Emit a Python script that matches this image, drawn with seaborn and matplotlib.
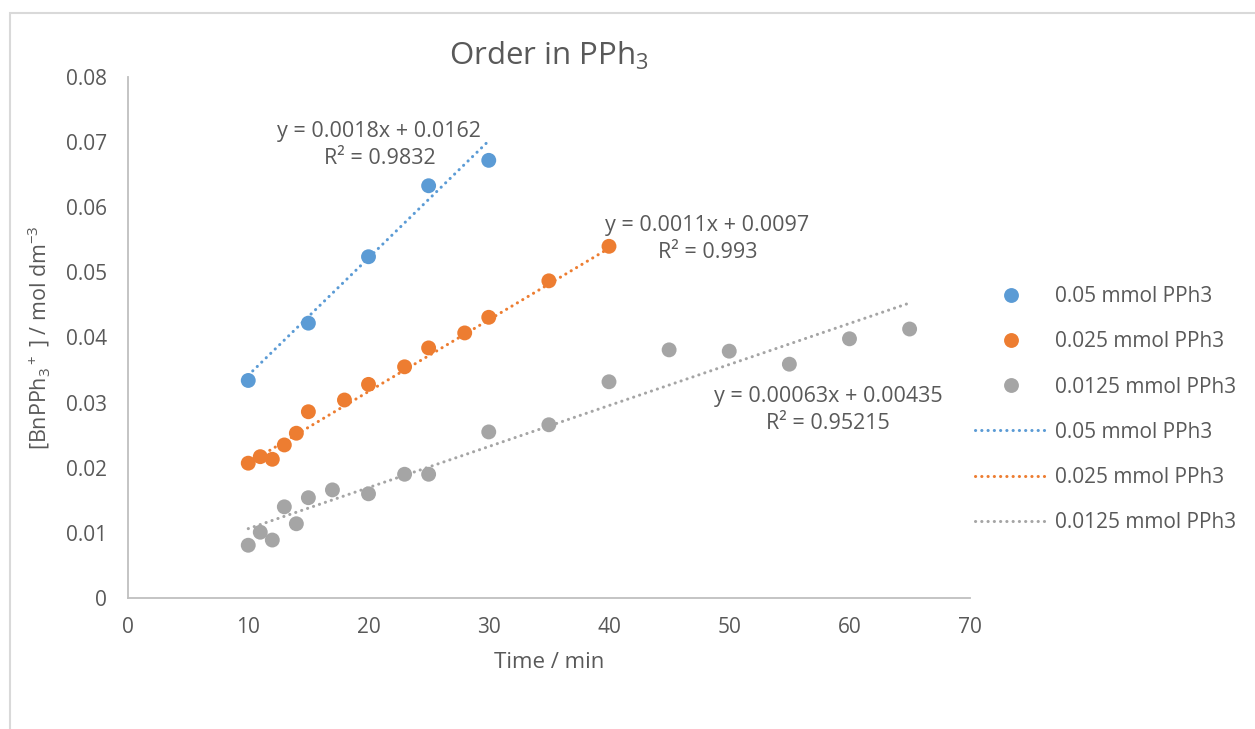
import numpy as np
import pandas as pd
import matplotlib
matplotlib.use("Agg")
import matplotlib.pyplot as plt
from matplotlib.lines import Line2D
from matplotlib.patches import Rectangle
import seaborn as sns

# --- data -------------------------------------------------------------
series_names = ["0.05 mmol PPh3", "0.025 mmol PPh3", "0.0125 mmol PPh3"]

t_005 = [10, 15, 20, 25, 30]
c_005 = [0.0334, 0.0422, 0.0524, 0.0633, 0.0672]

t_0025 = [10, 11, 12, 13, 14, 15, 18, 20, 23, 25, 28, 30, 35, 40]
c_0025 = [0.0207, 0.0217, 0.0213, 0.0235, 0.0253, 0.0286, 0.0304, 0.0328,
          0.0355, 0.0384, 0.0407, 0.0431, 0.0487, 0.0540]

t_00125 = [10, 11, 12, 13, 14, 15, 17, 20, 23, 25, 30, 35, 40, 45, 50, 55, 60, 65]
c_00125 = [0.0081, 0.0101, 0.0089, 0.0140, 0.0114, 0.0154, 0.0166, 0.0160,
           0.0190, 0.0190, 0.0255, 0.0266, 0.0332, 0.0381, 0.0379, 0.0359,
           0.0398, 0.0413]

# linear trendline coefficients (slope, intercept) and R^2
slopes = [0.0018, 0.0011, 0.00063]
intercepts = [0.0162, 0.0097, 0.00435]
r_squared = ["0.9832", "0.993", "0.95215"]
slope_text = ["0.0018", "0.0011", "0.00063"]
intercept_text = ["0.0162", "0.0097", "0.00435"]

colors = ["#5b9bd5", "#ed7d31", "#a5a5a5"]
text_color = "#595959"

df = pd.concat([
    pd.DataFrame({"time": t_005, "conc": c_005, "series": series_names[0]}),
    pd.DataFrame({"time": t_0025, "conc": c_0025, "series": series_names[1]}),
    pd.DataFrame({"time": t_00125, "conc": c_00125, "series": series_names[2]}),
], ignore_index=True)

# --- style ------------------------------------------------------------
sns.set_theme(style="white")
plt.rcParams["font.family"] = ["Open Sans", "DejaVu Sans"]
plt.rcParams["mathtext.fontset"] = "custom"
plt.rcParams["mathtext.rm"] = "Open Sans"
plt.rcParams["mathtext.it"] = "Open Sans"
plt.rcParams["mathtext.default"] = "rm"

fig = plt.figure(figsize=(12.55, 7.29), dpi=100)
fig.patch.set_facecolor("white")
ax = fig.add_axes([0.102, 0.1797, 0.6707, 0.7147])

# outer chart-area border
fig.add_artist(Rectangle((10 / 1255, -0.05), 1.2, 1 - 13 / 729 + 0.05,
                         transform=fig.transFigure, fill=False,
                         edgecolor="#d9d9d9", linewidth=1.5))

sns.scatterplot(data=df, x="time", y="conc", hue="series",
                hue_order=series_names, palette=colors, s=115,
                edgecolor="none", linewidth=0, legend=False, ax=ax, zorder=3)

# dotted linear trendlines over each series' time range
ranges = [(min(t_005), max(t_005)), (min(t_0025), max(t_0025)),
          (min(t_00125), max(t_00125))]
for (x0, x1), m, b, col in zip(ranges, slopes, intercepts, colors):
    xs = np.array([x0, x1])
    ax.plot(xs, m * xs + b, color=col, linewidth=2.2,
            linestyle=(0, (0.05, 2.0)), dash_capstyle="round", zorder=4)

# trendline equations
label_pos = [(20.9, 0.0695), (48.2, 0.0551), (58.2, 0.0288)]
for (lx, ly), st, it, r2 in zip(label_pos, slope_text, intercept_text, r_squared):
    ax.text(lx, ly, f"y = {st}x + {it}\nR² = {r2}", ha="center", va="center",
            fontsize=15.5, color=text_color, linespacing=1.38, zorder=5)

ax.set_xlim(0, 70)
ax.set_ylim(0, 0.08)
ax.set_xticks(np.arange(0, 71, 10))
ax.set_yticks(np.arange(0, 0.081, 0.01))
ax.set_yticklabels(["0"] + [f"{v:.2f}" for v in np.arange(0.01, 0.081, 0.01)])

for side in ["top", "right"]:
    ax.spines[side].set_visible(False)
for side in ["left", "bottom"]:
    ax.spines[side].set_color("#bfbfbf")
    ax.spines[side].set_linewidth(1.3)
ax.tick_params(axis="both", length=0, labelsize=15, colors=text_color)
ax.tick_params(axis="x", pad=14)
ax.tick_params(axis="y", pad=15)
ax.grid(False)

ax.set_xlabel("Time / min", fontsize=16, color=text_color, labelpad=10)
ax.set_ylabel(r"[BnPPh$_3$$^+$ ] / mol dm$^{-3}$", fontsize=15.5,
              color=text_color, labelpad=10)
ax.set_title(r"Order in PPh$_3$", fontsize=22.5, color=text_color, pad=9)

# legend: markers first, then trendlines
handles = [Line2D([], [], linestyle="none", marker="o", markersize=10.7,
                  markerfacecolor=c, markeredgecolor="none") for c in colors]
handles += [Line2D([], [], color=c, linewidth=2.2,
                   linestyle=(0, (0.05, 2.0)), dash_capstyle="round")
            for c in colors]
fig.legend(handles, series_names + series_names, loc="center left",
           bbox_to_anchor=(0.762, 0.438), frameon=False, fontsize=15,
           labelcolor=text_color, handlelength=3.45, handletextpad=0.4,
           labelspacing=1.16)

fig.savefig("out.png", dpi=100, facecolor="white")
